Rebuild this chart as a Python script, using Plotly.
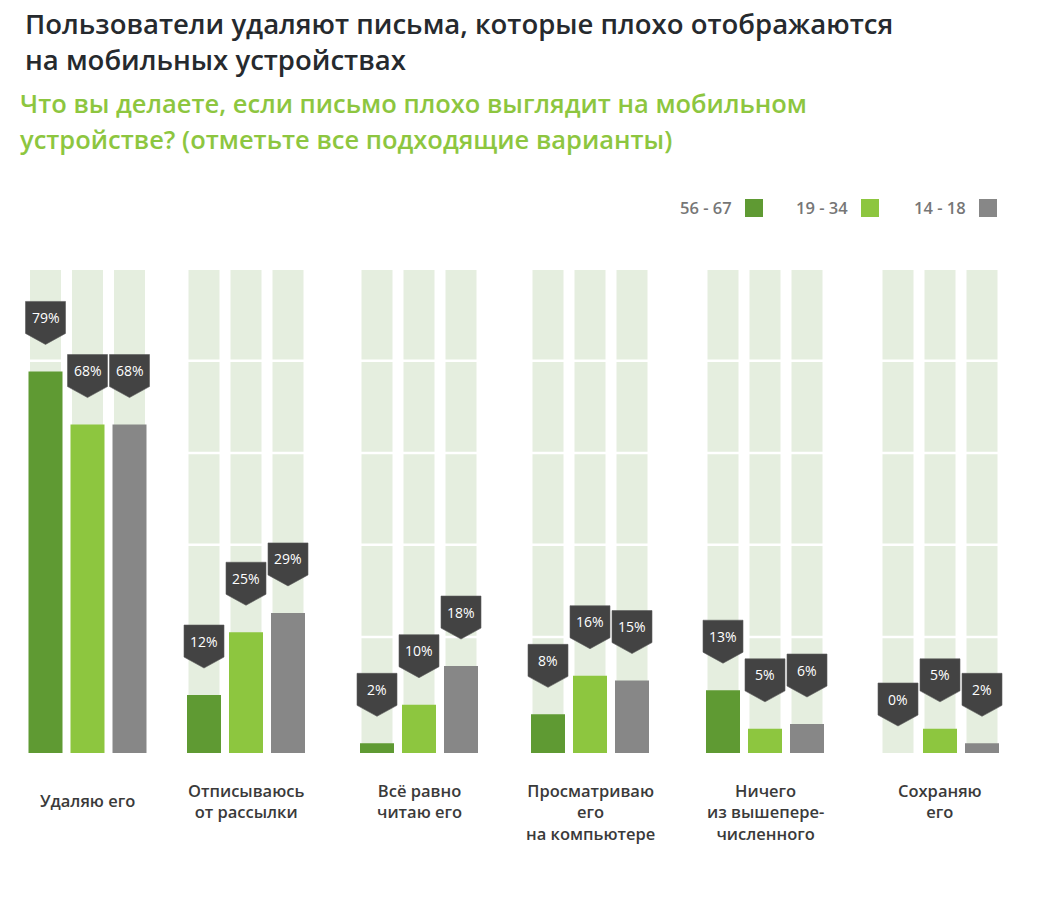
import plotly.graph_objects as go

# ---------------- data ----------------
categories = [
    "Удаляю его",
    "Отписываюсь<br>от рассылки",
    "Всё равно<br>читаю его",
    "Просматриваю<br>его<br>на компьютере",
    "Ничего<br>из вышепере-<br>численного",
    "Сохраняю<br>его",
]
series_names = ["56 - 67", "19 - 34", "14 - 18"]
age_56_67 = [79, 12, 2, 8, 13, 0]
age_19_34 = [68, 25, 10, 16, 5, 5]
age_14_18 = [68, 29, 18, 15, 6, 2]
series_values = [age_56_67, age_19_34, age_14_18]

title_lines = ["Пользователи удаляют письма, которые плохо отображаются",
               "на мобильных устройствах"]
subtitle_lines = ["Что вы делаете, если письмо плохо выглядит на мобильном",
                  "устройстве? (отметьте все подходящие варианты)"]

# ---------------- layout / style constants ----------------
W, H = 1044, 897
PLOT_TOP, PLOT_BOTTOM = 270, 753          # pixel rows of 100% and 0%
GROUP_X = [87.5, 246, 419, 590, 765, 940]  # pixel x of group centres
OFFSETS = [-42, 0, 42]
BAR_W = 34
TRACK_W = 31
TRACK_MAX = 100
GAP_LEVELS = [81.2, 62.1, 43.1, 24.0]
COLORS = ["#5f9a33", "#8dc63f", "#878787"]
TRACK_COLOR = "#e5eedf"
CALLOUT_COLOR = "#434343"
FONT = "Open Sans"


def py2paper(py):
    return (PLOT_BOTTOM - py) / (PLOT_BOTTOM - PLOT_TOP)


def px2paper(px):
    return px / W


fig = go.Figure()
shapes = []
annotations = []

# background tracks (layer below, axis-referenced so they sit in the subplot layer)
for gi, cx in enumerate(GROUP_X):
    for off in OFFSETS:
        shapes.append(dict(type="rect", xref="x", yref="y", layer="below",
                           x0=cx + off - TRACK_W / 2, x1=cx + off + TRACK_W / 2,
                           y0=0, y1=TRACK_MAX, fillcolor=TRACK_COLOR, line_width=0))
# white gaps in tracks
for lv in GAP_LEVELS:
    shapes.append(dict(type="line", xref="x", yref="y", layer="below",
                       x0=0, x1=W, y0=lv, y1=lv, line=dict(color="white", width=2.5)))

# data bars
for si, (name, vals) in enumerate(zip(series_names, series_values)):
    xs = [cx + OFFSETS[si] for cx in GROUP_X]
    fig.add_trace(go.Bar(x=xs, y=vals, width=BAR_W, name=name,
                         marker=dict(color=COLORS[si], line_width=0),
                         showlegend=False, hoverinfo="skip"))
    # callouts
    for x, v in zip(xs, vals):
        shapes.append(dict(type="path", xref="x", yref="y",
                           xsizemode="pixel", ysizemode="pixel",
                           xanchor=x, yanchor=v,
                           path="M -20,38 L -20,70 L 20,70 L 20,38 L 0,27 Z",
                           fillcolor=CALLOUT_COLOR, line=dict(color="#5a5a5a", width=0.6)))
        annotations.append(dict(x=x, y=v, xref="x", yref="y", yshift=54,
                                text=f"{v}%", showarrow=False, xanchor="center",
                                yanchor="middle",
                                font=dict(family=FONT, size=14, color="white")))

# category labels
for cx, lab in zip(GROUP_X, categories):
    nlines = lab.count("<br>") + 1
    top = 777 if nlines > 1 else 787
    annotations.append(dict(x=cx, y=py2paper(top), xref="x", yref="paper",
                            text=lab, showarrow=False, xanchor="center", yanchor="top",
                            align="center",
                            font=dict(family=FONT, size=16.5, color="#3a3a3a", weight=600)))

# titles
for i, t in enumerate(title_lines):
    annotations.append(dict(x=px2paper(23), y=py2paper(3 + 36 * i), xref="paper", yref="paper",
                            text=t, showarrow=False, xanchor="left", yanchor="top",
                            font=dict(family=FONT, size=27.5, color="#262a2e", weight=600)))
for i, t in enumerate(subtitle_lines):
    annotations.append(dict(x=px2paper(18), y=py2paper(84 + 36 * i), xref="paper", yref="paper",
                            text=t, showarrow=False, xanchor="left", yanchor="top",
                            font=dict(family=FONT, size=25.5, color="#8dc63f", weight=600)))

# custom legend
LEG_SQ_X = [745, 861, 979]
for name, sx, col in zip(series_names, LEG_SQ_X, COLORS):
    shapes.append(dict(type="rect", xref="paper", yref="paper",
                       x0=px2paper(sx), x1=px2paper(sx + 18),
                       y0=py2paper(217), y1=py2paper(199),
                       fillcolor=col, line_width=0))
    annotations.append(dict(x=px2paper(sx - 11), y=py2paper(208), xref="paper", yref="paper",
                            text=name, showarrow=False, xanchor="right", yanchor="middle",
                            font=dict(family=FONT, size=16.5, color="#767676", weight=600)))

fig.update_layout(
    width=W, height=H,
    margin=dict(l=0, r=0, t=PLOT_TOP, b=H - PLOT_BOTTOM, pad=0),
    paper_bgcolor="white", plot_bgcolor="white",
    barmode="overlay",
    xaxis=dict(range=[0, W], visible=False, fixedrange=True),
    yaxis=dict(range=[0, 100], visible=False, fixedrange=True),
    shapes=shapes, annotations=annotations,
    showlegend=False,
)

fig.write_html("out.html")
